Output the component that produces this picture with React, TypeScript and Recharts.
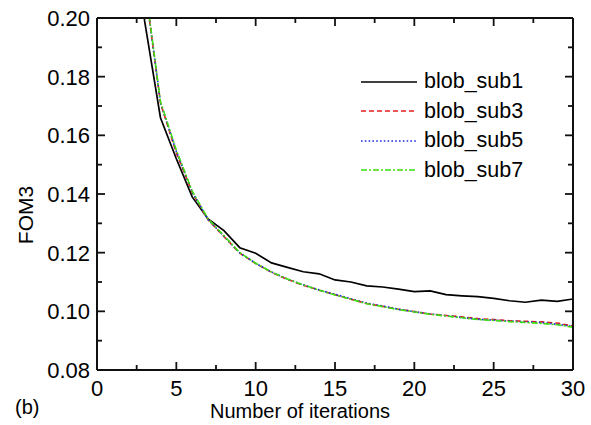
import { LineChart, Line, XAxis, YAxis, Label } from 'recharts';

const iterations = [2, 3, 4, 5, 6, 7, 8, 9, 10, 11, 12, 13, 14, 15, 16, 17, 18, 19, 20, 21, 22, 23, 24, 25, 26, 27, 28, 29, 30];
const blobSub1 = [0.26, 0.199, 0.166, 0.152, 0.139, 0.1315, 0.1275, 0.1217, 0.1198, 0.1165, 0.115, 0.1135, 0.1128, 0.1107, 0.11, 0.1087, 0.1083, 0.1076, 0.1067, 0.107, 0.1057, 0.1053, 0.105, 0.1044, 0.1036, 0.1031, 0.1038, 0.1034, 0.1042];
const blobSub3 = [0.27, 0.212, 0.171, 0.154, 0.1405, 0.1312, 0.1255, 0.1198, 0.1163, 0.1133, 0.1109, 0.1089, 0.1072, 0.1057, 0.1041, 0.1027, 0.1017, 0.1007, 0.0999, 0.0991, 0.0986, 0.0981, 0.0975, 0.0972, 0.0968, 0.0966, 0.0964, 0.096, 0.095];
const blobSub5 = [0.27, 0.212, 0.1712, 0.1545, 0.1407, 0.1313, 0.1256, 0.1199, 0.1164, 0.1134, 0.111, 0.109, 0.1073, 0.1058, 0.1043, 0.1028, 0.1018, 0.1007, 0.0999, 0.0991, 0.0985, 0.0979, 0.0973, 0.097, 0.0967, 0.0964, 0.0962, 0.0956, 0.0949];
const blobSub7 = [0.27, 0.2125, 0.1715, 0.155, 0.141, 0.1315, 0.1258, 0.12, 0.1164, 0.1134, 0.111, 0.109, 0.1072, 0.1056, 0.1041, 0.1026, 0.1016, 0.1006, 0.0998, 0.099, 0.0984, 0.0978, 0.0972, 0.0969, 0.0965, 0.0962, 0.0959, 0.0954, 0.0946];
const seriesNames = ['blob_sub1', 'blob_sub3', 'blob_sub5', 'blob_sub7'];
const xTicks = [0, 2.5, 5, 7.5, 10, 12.5, 15, 17.5, 20, 22.5, 25, 27.5, 30];
const yTicks = [0.08, 0.09, 0.1, 0.11, 0.12, 0.13, 0.14, 0.15, 0.16, 0.17, 0.18, 0.19, 0.2];

const data = iterations.map((it, i) => ({
  it,
  blob_sub1: blobSub1[i],
  blob_sub3: blobSub3[i],
  blob_sub5: blobSub5[i],
  blob_sub7: blobSub7[i],
}));

const FONT = 'Liberation Sans, Arial, Helvetica, sans-serif';
const INK = '#111';

const lineStyles: Record<string, { color: string; dash?: string; width: number }> = {
  blob_sub1: { color: '#000000', width: 1.7 },
  blob_sub3: { color: '#e8201c', dash: '5 3', width: 1.6 },
  blob_sub5: { color: '#1c2ce0', dash: '1.6 2.2', width: 1.7 },
  blob_sub7: { color: '#3fdc10', dash: '6 2 2 2', width: 1.6 },
};

const isMajorX = (v: number) => Math.abs(v % 5) < 1e-6;
const isMajorY = (v: number) => Math.round(v * 100) % 2 === 0;
const tickLen = (major: boolean) => (major ? 8 : 5);

const bottomTick = (props: any) => {
  const x = Number(props.x);
  const y = Number(props.y);
  const major = isMajorX(props.payload.value);
  const axisY = y - 10;
  return (
    <g>
      <line x1={x} x2={x} y1={axisY} y2={axisY - tickLen(major)} stroke={INK} strokeWidth={1.8} />
      {major ? (
        <text x={x} y={y} dy="0.71em" textAnchor="middle" fontSize={22} fontFamily={FONT} fill="#000">
          {props.payload.value}
        </text>
      ) : null}
    </g>
  );
};

const leftTick = (props: any) => {
  const x = Number(props.x);
  const y = Number(props.y);
  const major = isMajorY(props.payload.value);
  return (
    <g>
      <line x1={x + 7} x2={x + 7 + tickLen(major)} y1={y} y2={y} stroke={INK} strokeWidth={1.8} />
      {major ? (
        <text x={x} y={y} dy="0.36em" textAnchor="end" fontSize={22} fontFamily={FONT} fill="#000">
          {props.payload.value.toFixed(2)}
        </text>
      ) : null}
    </g>
  );
};

const topTick = (props: any) => (
  <line x1={props.x} x2={props.x} y1={props.y} y2={props.y + tickLen(isMajorX(props.payload.value))} stroke={INK} strokeWidth={1.8} />
);

const rightTick = (props: any) => (
  <line x1={props.x} x2={props.x - tickLen(isMajorY(props.payload.value))} y1={props.y} y2={props.y} stroke={INK} strokeWidth={1.8} />
);

function LegendOverlay() {
  return (
    <div style={{ position: 'absolute', left: 361, top: 67, fontFamily: FONT, fontSize: 21.5, color: '#000' }}>
      {seriesNames.map((name) => {
        const st = lineStyles[name];
        return (
          <div key={name} style={{ display: 'flex', alignItems: 'center', height: 29.5 }}>
            <svg width={56} height={10} style={{ marginRight: 7 }}>
              <line x1={0} x2={56} y1={5} y2={5} stroke={st.color} strokeWidth={st.width} strokeDasharray={st.dash} />
            </svg>
            <span>{name}</span>
          </div>
        );
      })}
    </div>
  );
}

export default function App() {
  return (
    <div style={{ position: 'absolute', left: 0, top: 0 }}>
      <LineChart width={591} height={425} data={data} margin={{ top: 17, right: 17, bottom: 0, left: 0 }}>
        <XAxis
          dataKey="it"
          type="number"
          domain={[0, 30]}
          ticks={xTicks}
          interval={0}
          allowDataOverflow
          height={55}
          tickSize={0}
          tickMargin={10}
          tickLine={false}
          tick={bottomTick}
          axisLine={{ stroke: INK, strokeWidth: 2 }}
        >
          <Label value="Number of iterations" position="insideBottom" offset={7} dx={-35} fontSize={20} fontFamily={FONT} fill="#000" />
          <Label value="(b)" position="insideBottomLeft" offset={11} dx={-93} fontSize={20} fontFamily={FONT} fill="#000" />
        </XAxis>
        <XAxis
          xAxisId="top"
          orientation="top"
          dataKey="it"
          type="number"
          domain={[0, 30]}
          ticks={xTicks}
          interval={0}
          allowDataOverflow
          height={1}
          tickSize={0}
          tickMargin={0}
          tickLine={false}
          tick={topTick}
          axisLine={{ stroke: INK, strokeWidth: 2 }}
        />
        <YAxis
          type="number"
          domain={[0.08, 0.2]}
          ticks={yTicks}
          interval={0}
          allowDataOverflow
          width={97}
          tickSize={0}
          tickMargin={7}
          tickLine={false}
          tick={leftTick}
          axisLine={{ stroke: INK, strokeWidth: 2 }}
        >
          <Label value="FOM3" angle={-90} position="center" dx={-22.5} dy={21} fontSize={21} fontFamily={FONT} fill="#000" />
        </YAxis>
        <YAxis
          yAxisId="right"
          orientation="right"
          type="number"
          domain={[0.08, 0.2]}
          ticks={yTicks}
          interval={0}
          allowDataOverflow
          width={1}
          tickSize={0}
          tickMargin={0}
          tickLine={false}
          tick={rightTick}
          axisLine={{ stroke: INK, strokeWidth: 2 }}
        />
        {seriesNames.map((name) => (
          <Line
            key={name}
            type="linear"
            dataKey={name}
            name={name}
            stroke={lineStyles[name].color}
            strokeWidth={lineStyles[name].width}
            strokeDasharray={lineStyles[name].dash}
            dot={false}
            isAnimationActive={false}
          />
        ))}
        {/* invisible series so the top/right frame axes have something bound to them */}
        <Line xAxisId="top" yAxisId="right" dataKey="blob_sub1" stroke="none" dot={false} legendType="none" isAnimationActive={false} />
      </LineChart>
      <LegendOverlay />
    </div>
  );
}
